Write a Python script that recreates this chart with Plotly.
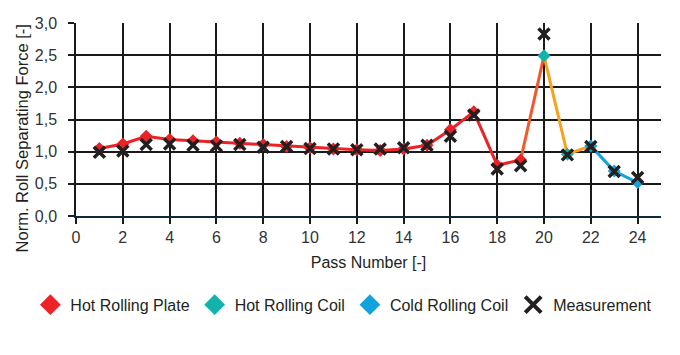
import plotly.graph_objects as go

# ---- data ----
passes_plate = list(range(1, 20))
hot_plate = [1.05, 1.12, 1.24, 1.19, 1.17, 1.15, 1.13, 1.11, 1.08, 1.06,
             1.04, 1.03, 1.02, 1.04, 1.10, 1.34, 1.62, 0.79, 0.87]
passes_hot_coil = [20, 21]
hot_coil = [2.49, 0.96]
passes_cold_coil = [22, 23, 24]
cold_coil = [1.09, 0.70, 0.52]
passes_meas = list(range(1, 25))
measurement = [0.99, 1.01, 1.11, 1.12, 1.10, 1.09, 1.11, 1.07, 1.08, 1.05,
               1.04, 1.03, 1.04, 1.06, 1.10, 1.24, 1.57, 0.73, 0.78, 2.83,
               0.95, 1.08, 0.69, 0.60]
series_names = ["Hot Rolling Plate", "Hot Rolling Coil", "Cold Rolling Coil", "Measurement"]
x_ticks = list(range(0, 25, 2))
y_ticks = [0, 0.5, 1.0, 1.5, 2.0, 2.5, 3.0]

RED = "#ec2227"
TEAL = "#12b2ad"
BLUE = "#11a3dc"
ORANGE = "#f7a21b"
REDORANGE = "#f4572a"
BLACK = "#231f20"
FONT = "Liberation Sans, Arial, sans-serif"

fig = go.Figure()

# lines (no legend)
fig.add_trace(go.Scatter(x=passes_plate, y=hot_plate, mode="lines",
                         line=dict(color=RED, width=3), showlegend=False, hoverinfo="skip"))
fig.add_trace(go.Scatter(x=[passes_plate[-1], passes_hot_coil[0]], y=[hot_plate[-1], hot_coil[0]],
                         mode="lines", line=dict(color=REDORANGE, width=3), showlegend=False, hoverinfo="skip"))
fig.add_trace(go.Scatter(x=passes_hot_coil + [passes_cold_coil[0]], y=hot_coil + [cold_coil[0]],
                         mode="lines", line=dict(color=ORANGE, width=3), showlegend=False, hoverinfo="skip"))
fig.add_trace(go.Scatter(x=passes_cold_coil, y=cold_coil, mode="lines",
                         line=dict(color=BLUE, width=3), showlegend=False, hoverinfo="skip"))

# data markers
fig.add_trace(go.Scatter(x=passes_plate, y=hot_plate, mode="markers", name=series_names[0],
                         showlegend=False, marker=dict(symbol="diamond", size=10, color=RED)))
fig.add_trace(go.Scatter(x=passes_hot_coil, y=hot_coil, mode="markers", name=series_names[1],
                         showlegend=False, marker=dict(symbol="diamond", size=10, color=TEAL)))
fig.add_trace(go.Scatter(x=passes_cold_coil, y=cold_coil, mode="markers", name=series_names[2],
                         showlegend=False, marker=dict(symbol="diamond", size=10, color=BLUE)))
fig.add_trace(go.Scatter(x=passes_meas, y=measurement, mode="markers", name=series_names[3],
                         showlegend=False,
                         marker=dict(symbol="x-thin", size=11, color=BLACK,
                                     line=dict(color=BLACK, width=3.5))))

# legend entries (larger symbols)
for nm, sym, col in zip(series_names, ["diamond", "diamond", "diamond", "x-thin"],
                        [RED, TEAL, BLUE, BLACK]):
    fig.add_trace(go.Scatter(x=[None], y=[None], mode="markers", name=nm,
                             marker=dict(symbol=sym, size=17, color=col,
                                         line=dict(color=col, width=4 if sym == "x-thin" else 0))))

fig.update_layout(
    width=680, height=355,
    margin=dict(l=76, r=19, t=23, b=139),
    paper_bgcolor="white", plot_bgcolor="white",
    separators=",.",
    font=dict(family=FONT, size=15, color="#231f20"),
    showlegend=True,
    legend=dict(orientation="h", x=-0.078, xanchor="left", y=-0.46, yanchor="middle",
                font=dict(size=16, family=FONT), itemsizing="trace",
                traceorder="normal", itemwidth=30),
    xaxis=dict(range=[0, 25], tickvals=x_ticks, showgrid=True, gridcolor="#1a1a1a",
               gridwidth=1.5, zeroline=False, showline=True, linecolor="#0b2a3b",
               linewidth=2, ticks="outside", ticklen=6, tickcolor="#1a1a1a", tickwidth=1.5,
               tickfont=dict(size=16, color="#333333"),
               title=dict(text="Pass Number [-]", font=dict(size=16), standoff=12)),
    yaxis=dict(range=[0, 3.0], tickvals=y_ticks, tickformat=".1f", showgrid=True,
               gridcolor="#1a1a1a", gridwidth=1.5, zeroline=False, showline=True,
               linecolor="#1a1a1a", linewidth=1.5, ticks="outside", ticklen=6,
               tickcolor="#1a1a1a", tickwidth=1.5, ticklabelstandoff=8,
               tickfont=dict(size=16, color="#333333")),
    annotations=[dict(text="Norm. Roll Separating Force [-]", textangle=-90,
                      xref="paper", yref="paper", x=-0.093, y=0.4, xanchor="center",
                      yanchor="middle", showarrow=False, font=dict(size=16.5))],
)

fig.write_html("out.html")
